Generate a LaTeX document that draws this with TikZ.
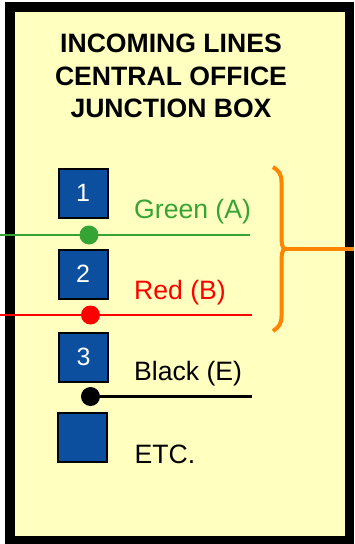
\documentclass[tikz,border=0pt]{standalone}
\usepackage{fontspec}
\setmainfont{Liberation Sans}
\definecolor{boxfill}{HTML}{FFFFBF}
\definecolor{sqblue}{HTML}{0B4F9E}
\definecolor{wgreen}{HTML}{36A435}
\definecolor{wred}{HTML}{FE0000}
\definecolor{brace}{HTML}{FF8400}
\tikzset{
  sq/.style={draw=black,line width=2pt,fill=sqblue,minimum size=49pt,inner sep=0pt,text=white,font=\fontsize{25}{25}\selectfont,anchor=center},
  lab/.style={anchor=base west,inner sep=0pt,font=\fontsize{26.6}{26.6}\selectfont},
  dot/.style={circle,inner sep=0pt,minimum size=19pt,fill=#1},
  wire/.style={line width=2.2pt}
}
\begin{document}
\begin{tikzpicture}[x=1pt,y=-1pt]
\useasboundingbox (0,0) rectangle (354,544);
\fill[white] (0,0) rectangle (354,544);
\node[draw=black,line width=9.5pt,fill=boxfill,minimum width=339.5pt,minimum height=533.5pt,inner sep=0pt,anchor=center] (box) at (179.5,273.5) {};
\node[align=center,inner sep=0pt,font=\fontsize{26.6}{32.5}\selectfont\bfseries,anchor=center] (title) at (171,76) {INCOMING LINES\\CENTRAL OFFICE\\JUNCTION BOX};
\node[sq] (s1) at (83,193) {1};
\node[sq] (s2) at (83,274) {2};
\node[sq] (s3) at (83.7,357) {3};
\node[sq] (s4) at (82.2,437) {};
\node[lab,text=wgreen] (tg) at (134,218) {Green (A)};
\node[lab,text=wred] (tr) at (134,299) {Red (B)};
\node[lab,text=black] (tk) at (134,380) {Black (E)};
\node[lab,text=black] (te) at (134.5,463) {ETC.};
\coordinate (gl) at (0,235);\coordinate (gr) at (250,235);
\coordinate (rl) at (0,315);\coordinate (rr) at (252,315);
\coordinate (kr) at (252,396.5);
\coordinate (cg) at (89,235);
\coordinate (cr) at (90.5,315);
\coordinate (ck) at (90.5,396.5);
\draw[wire,wgreen] (gl) -- (gr);
\draw[wire,wred] (rl) -- (rr);
\draw[wire,black] (ck) -- (kr);
\node[dot=wgreen] (dg) at (cg) {};
\node[dot=wred] (dr) at (cr) {};
\node[dot=black] (dk) at (ck) {};
\coordinate (btop) at (273,167);
\coordinate (bbot) at (273,331);
\coordinate (bmid) at (283,249);
\coordinate (bend) at (354,249);
\draw[brace,line width=4pt] (btop) .. controls (279,171) and (281.5,174) .. (281.5,182) -- (281.5,234) .. controls (281.5,244) and (282,248) .. (285,249) .. controls (282,250) and (281.5,254) .. (281.5,264) -- (281.5,316) .. controls (281.5,324) and (279,327) .. (bbot);
\draw[brace,line width=4pt] (bmid) -- (bend);
\end{tikzpicture}
\end{document}
